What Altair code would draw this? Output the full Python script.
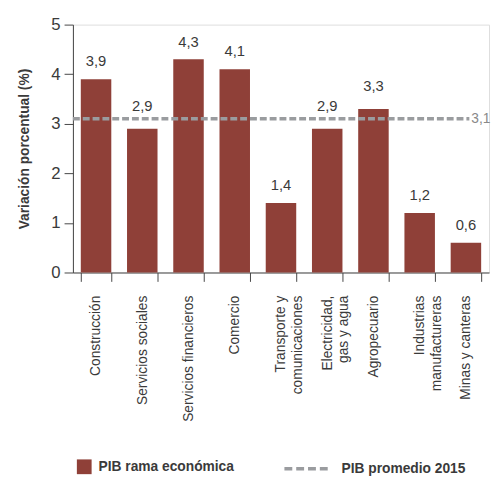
import altair as alt
import pandas as pd

categorias = ["Construcción", "Servicios sociales", "Servicios financieros", "Comercio",
              "Transporte y\ncomunicaciones", "Electricidad,\ngas y agua", "Agropecuario",
              "Industrias\nmanufactureras", "Minas y canteras"]
valores = [3.9, 2.9, 4.3, 4.1, 1.4, 2.9, 3.3, 1.2, 0.6]
etiquetas = ["3,9", "2,9", "4,3", "4,1", "1,4", "2,9", "3,3", "1,2", "0,6"]
promedio = 3.1
promedio_txt = "3,1"
serie_barras = "PIB rama económica"
serie_linea = "PIB promedio 2015"

FONT = "Liberation Sans"
BAR = "#8f4038"
GRAY = "#9a9c9f"
TXT = "#3a3a3a"

df = pd.DataFrame({"cat": categorias, "val": valores, "lab": etiquetas, "serie": serie_barras})
dfp = pd.DataFrame({"y": [promedio], "lab": [promedio_txt], "serie": [serie_linea]})

xenc = alt.X("cat:N", sort=categorias, title=None,
             scale=alt.Scale(paddingInner=0.34, paddingOuter=0.17),
             axis=alt.Axis(labelAngle=-90, labelAlign="right", labelBaseline="middle",
                           labelExpr="split(datum.label, '\\n')",
                           labelFont=FONT, labelFontSize=14, labelLineHeight=17,
                           labelColor=TXT, labelPadding=14, tickSize=9,
                           tickBand="extent", domainColor="#444", tickColor="#444",
                           labelLimit=300))
yenc = alt.Y("val:Q", title="Variación porcentual (%)",
             scale=alt.Scale(domain=[0, 5], nice=False),
             axis=alt.Axis(values=[0, 1, 2, 3, 4, 5], grid=False, tickSize=9,
                           labelFont=FONT, labelFontSize=17, labelColor=TXT, labelPadding=4,
                           titleFont=FONT, titleFontSize=14, titleFontWeight="bold",
                           titleColor=TXT, titlePadding=20,
                           domainColor="#444", tickColor="#444"))

bars = alt.Chart(df).mark_bar(size=31).encode(
    x=xenc, y=yenc,
    fill=alt.Fill("serie:N", scale=alt.Scale(range=[BAR]), title=None,
                  legend=alt.Legend(orient="none", legendX=4, legendY=442,
                                    symbolType="square", symbolSize=225,
                                    symbolStrokeWidth=0, labelFont=FONT,
                                    labelFontSize=14, labelFontWeight="bold",
                                    labelColor=TXT, labelOffset=7))
)

# labels close to the average line are lifted a little so the dashed line doesn't cross them
cerca = f"abs(datum.val - {promedio}) < 0.3"
labels_lejos = alt.Chart(df).transform_filter(f"!({cerca})").mark_text(
    baseline="bottom", dy=-10, font=FONT, fontSize=15, color=TXT).encode(
    x=alt.X("cat:N", sort=categorias), y="val:Q", text="lab:N")
labels_cerca = alt.Chart(df).transform_filter(cerca).mark_text(
    baseline="bottom", dy=-15, font=FONT, fontSize=15, color=TXT).encode(
    x=alt.X("cat:N", sort=categorias), y="val:Q", text="lab:N")

rule = alt.Chart(dfp).mark_rule(strokeWidth=3.5, strokeDash=[7, 3]).encode(
    y="y:Q", x=alt.value(0), x2=alt.value(403),
    stroke=alt.Stroke("serie:N", scale=alt.Scale(range=[GRAY]), title=None,
                      legend=alt.Legend(orient="none", legendX=213, legendY=426,
                                        symbolType="stroke", symbolSize=2209,
                                        symbolStrokeWidth=3.5, symbolDash=[8, 4],
                                        labelFont=FONT, labelFontSize=14,
                                        labelFontWeight="bold", labelColor=TXT,
                                        labelOffset=9))
)

rule_lab = alt.Chart(dfp).mark_text(align="left", baseline="middle", font=FONT,
                                    fontSize=14, color="#888").encode(
    y="y:Q", x=alt.value(405), text="lab:N")

chart = alt.layer(bars, labels_lejos, labels_cerca, rule, rule_lab).properties(
    width=423, height=252,
    autosize=alt.AutoSizeParams(type="none"),
    padding={"left": 66, "top": 13, "right": 2, "bottom": 204},
).configure_view(stroke=None).configure(background="white")

chart.save("out.html", embed_options={"renderer": "svg", "actions": False})
